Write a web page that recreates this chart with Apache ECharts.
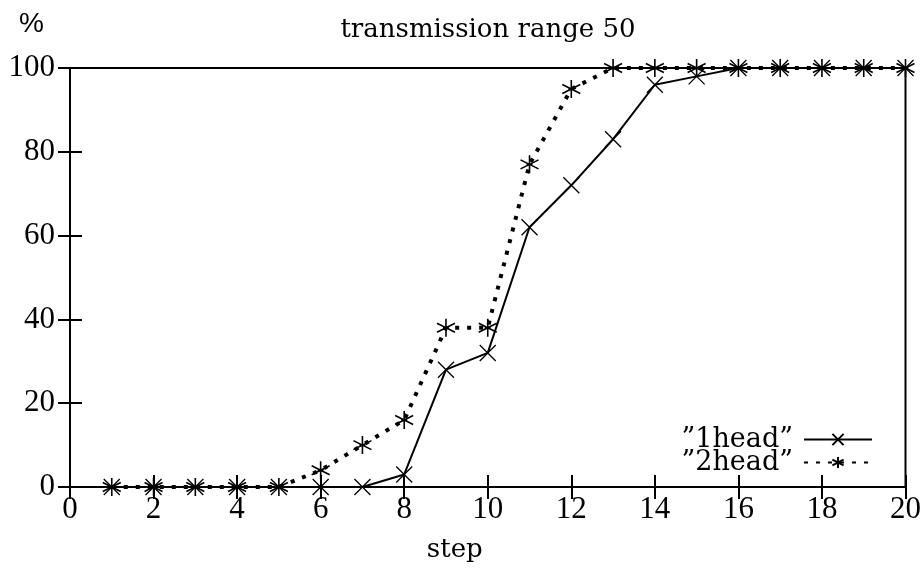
<!DOCTYPE html>
<html>
<head>
<meta charset="utf-8">
<script src="https://cdn.jsdelivr.net/npm/echarts@6/dist/echarts.min.js"></script>
<style>
  html, body { margin: 0; padding: 0; background: #fff; }
  #chart { width: 924px; height: 571px; }
</style>
</head>
<body>
<div id="chart"></div>
<script>
// values
const steps = [1, 2, 3, 4, 5, 6, 7, 8, 9, 10, 11, 12, 13, 14, 15, 16, 17, 18, 19, 20]
const oneHead = [0, 0, 0, 0, 0, 0, 0, 3, 28, 32, 62, 72, 83, 96, 98, 100, 100, 100, 100, 100]
const twoHead = [0, 0, 0, 0, 0, 4, 10, 16, 38, 38, 77, 95, 100, 100, 100, 100, 100, 100, 100, 100]
const seriesNames = ["\u201d1head\u201d", "\u201d2head\u201d"]

const wordFont = "'DejaVu Serif', serif"
const digitFont = "'Liberation Serif', serif"
const crossPath = "path://M-10,-10L10,10M-10,10L10,-10"
const starPath = "path://M0,-10L0,10M-9,-5L9,5M-9,5L9,-5M-3,0L3,0"

const chart = echarts.init(document.getElementById("chart"))

const pairs = (ys) => steps.map((s, i) => [s, ys[i]])

const xBase = {
  type: "value",
  min: 0,
  max: 20,
  interval: 2,
  splitLine: { show: false },
  axisLine: { show: false },
  axisTick: { inside: true, length: 12, lineStyle: { color: "#000", width: 2 } },
}
const yBase = {
  type: "value",
  min: 0,
  max: 100,
  interval: 20,
  splitLine: { show: false },
  axisLine: { show: false },
  axisTick: { inside: true, length: 12, lineStyle: { color: "#000", width: 2 } },
}

const option = {
  backgroundColor: "#fff",
  animation: false,
  title: {
    text: "transmission range 50",
    left: 483,
    textAlign: "center",
    top: 12,
    textStyle: { fontFamily: wordFont, fontSize: 26, fontWeight: "normal", color: "#000" },
  },
  grid: {
    left: 70,
    right: 17,
    top: 68,
    bottom: 84,
    show: true,
    borderColor: "#000",
    borderWidth: 2,
    backgroundColor: "transparent",
  },
  legend: {
    orient: "vertical",
    right: 46,
    top: 421,
    align: "right",
    itemWidth: 68,
    itemHeight: 14,
    itemGap: -4,
    data: seriesNames,
    textStyle: { fontFamily: wordFont, fontSize: 27, color: "#000", padding: [0, 6, 0, 0] },
  },
  xAxis: [
    {
      ...xBase,
      position: "bottom",
      name: "step",
      nameLocation: "middle",
      nameGap: 50,
      nameTextStyle: { fontFamily: wordFont, fontSize: 26, color: "#000", padding: [0, 66, 0, 0] },
      axisLabel: { fontFamily: digitFont, fontSize: 31, color: "#000", margin: 7 },
    },
    { ...xBase, position: "top", axisLabel: { show: false } },
  ],
  yAxis: [
    {
      ...yBase,
      position: "left",
      name: "%",
      nameLocation: "end",
      nameGap: 30,
      nameTextStyle: { fontFamily: "'Liberation Sans', sans-serif", fontSize: 28, color: "#000", align: "right", padding: [0, 26, 0, 0] },
      axisLabel: { fontFamily: digitFont, fontSize: 31, color: "#000", margin: 15 },
    },
    { ...yBase, position: "right", axisLabel: { show: false } },
  ],
  series: [
    {
      name: seriesNames[0],
      type: "line",
      data: pairs(oneHead),
      symbol: crossPath,
      symbolSize: 16,
      lineStyle: { color: "#000", width: 2 },
      itemStyle: { color: "#000", borderColor: "#000", borderWidth: 1.3 },
    },
    {
      name: seriesNames[1],
      type: "line",
      data: pairs(twoHead),
      symbol: starPath,
      symbolSize: 18,
      lineStyle: { color: "#000", width: 4, type: [4, 8], cap: "butt" },
      itemStyle: { color: "#000", borderColor: "#000", borderWidth: 1.6 },
    },
  ],
}

chart.setOption(option)
</script>
</body>
</html>
